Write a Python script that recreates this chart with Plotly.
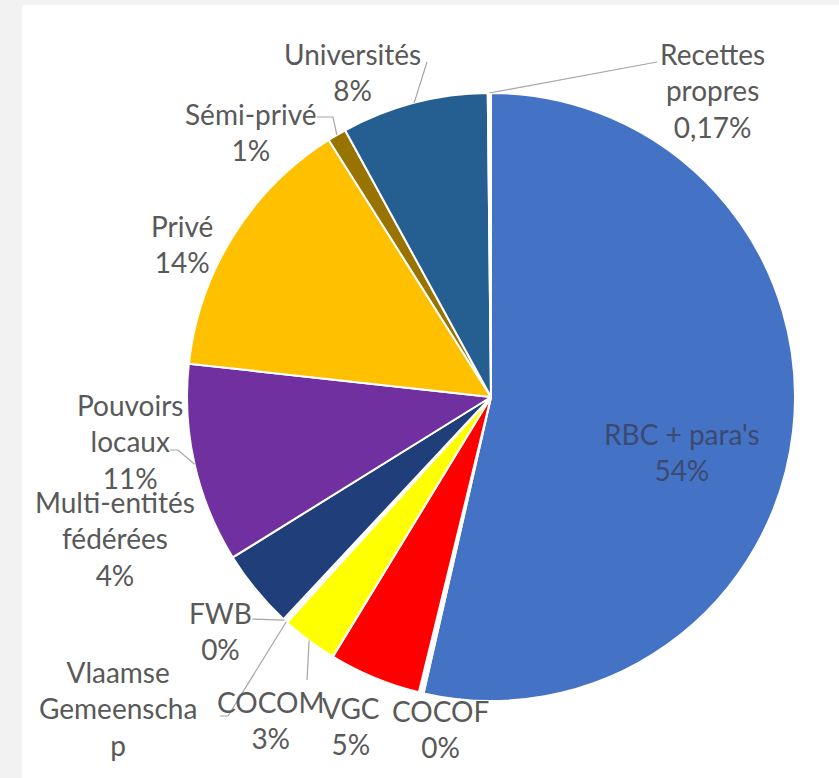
import math
import plotly.graph_objects as go

# ---- data ----
categories = ["RBC + para's", "COCOF", "VGC", "COCOM", "Vlaamse Gemeenschap", "FWB",
              "Multi-entités fédérées", "Pouvoirs locaux", "Privé", "Sémi-privé",
              "Universités", "Recettes propres"]
values = [53.6, 0.25, 4.9, 3.0, 0.1, 0.15, 4.2, 10.6, 14.3, 1.0, 7.8, 0.17]
label_texts = ["RBC + para's<br>54%", "COCOF<br>0%", "VGC<br>5%", "COCOM<br>3%",
               "Vlaamse<br>Gemeenscha<br>p", "FWB<br>0%", "Multi-entités<br>fédérées<br>4%",
               "Pouvoirs<br>locaux<br>11%", "Privé<br>14%", "Sémi-privé<br>1%",
               "Universités<br>8%", "Recettes<br>propres<br>0,17%"]
colors = ["#4472C4", "#FFFFFF", "#FF0000", "#FFFF00", "#FFFFFF", "#FFFFFF",
          "#203F7A", "#7030A0", "#FFC000", "#997300", "#255E91", "#FFFFFF"]

# ---- layout geometry (pixels) ----
W, H = 839, 778
CX, CY, R = 491, 397, 304


def px(x):
    return x / W


def py(y):
    return 1 - y / H


dom_x = [px(CX - R), px(CX + R)]
dom_y = [py(CY + R), py(CY - R)]

# label block centres (pixels)
label_pos = {
    "RBC + para's": (682, 452),
    "COCOF": (440, 729),
    "VGC": (351, 726),
    "COCOM": (270, 720),
    "Vlaamse Gemeenschap": (118, 708),
    "FWB": (220, 631),
    "Multi-entités fédérées": (115, 538),
    "Pouvoirs locaux": (130, 442),
    "Privé": (182, 244),
    "Sémi-privé": (251, 132),
    "Universités": (352, 72),
    "Recettes propres": (712, 91),
}
# leader line start points near labels (pixels)
leaders = {
    "Universités": [(427, 62)],
    "Sémi-privé": [(317, 117), (333, 117)],
    "Recettes propres": [(657, 62)],
    "Pouvoirs locaux": [(170, 450), (178, 450)],
    "FWB": [(252, 619)],
    "Vlaamse Gemeenschap": [(220, 716), (228, 716)],
    "COCOM": [(307, 680)],
}

# slice mid-arc anchors computed from values
total = sum(values)
anchors = {}
cum = 0.0
for c, v in zip(categories, values):
    mid = (cum + v / 2) / total * 2 * math.pi
    anchors[c] = (CX + R * math.sin(mid), CY - R * math.cos(mid))
    cum += v

fig = go.Figure(go.Pie(
    labels=categories,
    values=values,
    sort=False,
    direction="clockwise",
    rotation=0,
    textinfo="none",
    hoverinfo="label+percent",
    marker=dict(colors=colors, line=dict(color="white", width=2)),
    domain=dict(x=dom_x, y=dom_y),
    showlegend=False,
))

shapes = [dict(type="rect", xref="paper", yref="paper", x0=px(22), x1=1, y0=0, y1=py(5),
               fillcolor="white", line=dict(width=0), layer="below")]
for c, pts in leaders.items():
    allpts = pts + [anchors[c]]
    path = "M " + " L ".join(f"{px(x):.5f},{py(y):.5f}" for x, y in allpts)
    shapes.append(dict(type="path", xref="paper", yref="paper", path=path,
                       line=dict(color="#A6A6A6", width=1.2)))

annotations = []
for c, t in zip(categories, label_texts):
    x, y = label_pos[c]
    col = "#3B4A70" if c == "RBC + para's" else "#595959"
    annotations.append(dict(x=px(x), y=py(y), xref="paper", yref="paper", text=t,
                            showarrow=False, xanchor="center", yanchor="middle",
                            align="center", font=dict(family="Lato", size=28, color=col)))

fig.update_layout(
    width=W, height=H,
    margin=dict(l=0, r=0, t=0, b=0),
    paper_bgcolor="#F2F2F2",
    shapes=shapes,
    annotations=annotations,
)

fig.write_html("out.html",
               config={"displayModeBar": False},
               post_script="document.body.style.margin='0';document.body.style.background='#F2F2F2';")
